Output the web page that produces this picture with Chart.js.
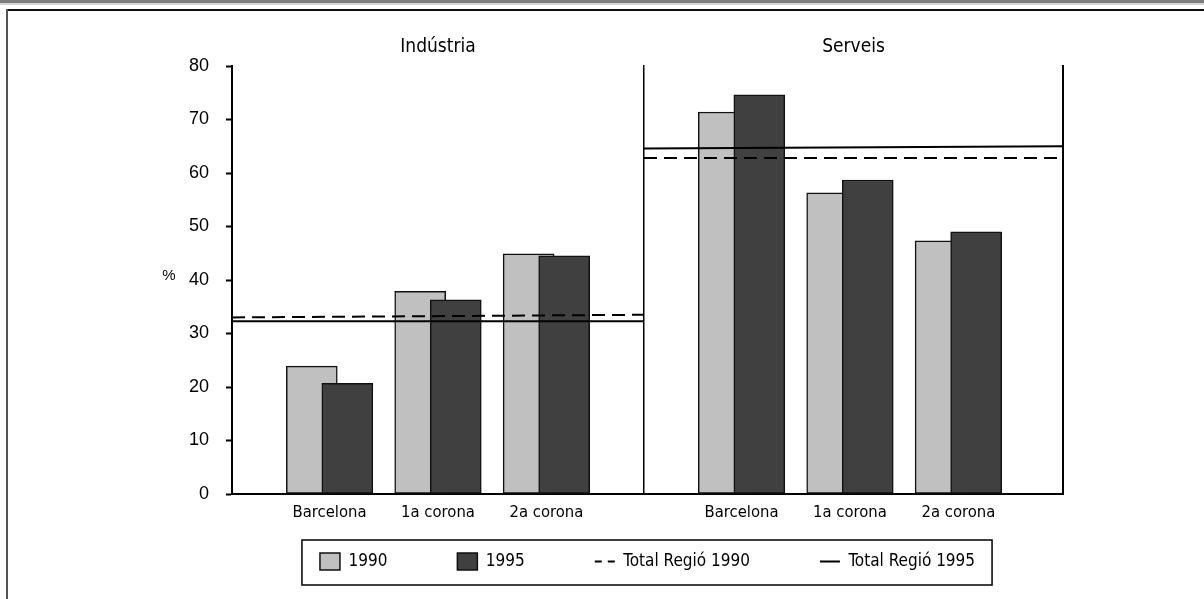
<!DOCTYPE html>
<html>
<head>
<meta charset="utf-8">
<script src="https://cdn.jsdelivr.net/npm/chart.js@4.4.1/dist/chart.umd.min.js"></script>
<style>
html,body{margin:0;padding:0;background:#fff;}
#wrap{position:relative;width:1204px;height:599px;overflow:hidden;background:#fff;}
#topband{position:absolute;left:0;top:0;width:1204px;height:3px;background:#7d7d7d;}
#topband2{position:absolute;left:0;top:3px;width:1204px;height:2px;background:#d4d4d4;}
#topline{position:absolute;left:6px;top:9px;width:1198px;height:2px;background:#111;}
#leftline{position:absolute;left:6px;top:9px;width:2px;height:590px;background:#555;}
canvas{position:absolute;left:0;top:0;}
</style>
</head>
<body>
<div id="wrap">
  <div id="topband"></div><div id="topband2"></div><div id="topline"></div><div id="leftline"></div>
  <canvas id="c" width="1204" height="599"></canvas>
</div>
<script>
// ---- data ----
const categories = ['Barcelona', '1a corona', '2a corona'];
const panels = ['Indústria', 'Serveis'];
const ind1990 = [23.9, 37.9, 44.9];
const ind1995 = [20.7, 36.3, 44.5];
const ser1990 = [71.4, 56.3, 47.3];
const ser1995 = [74.6, 58.7, 49.0];
// total lines: [value at panel left edge, value at panel right edge]
const totInd1990 = [33.0, 33.5];
const totInd1995 = [32.3, 32.3];
const totSer1990 = [62.8, 62.8];
const totSer1995 = [64.6, 65.0];
const legendLabels = ['1990', '1995', 'Total Regió 1990', 'Total Regió 1995'];
const yAxisTitle = '%';
const yMin = 0, yMax = 80, yStep = 10;

// ---- layout helpers (category units on a linear x axis) ----
const PANEL_PAD = 0.9, PANEL_W = 3.8, RIGHT_EXTRA = 0.065, BAR_SHIFT = 0.164;
const xMin = -PANEL_PAD, xDiv = xMin + PANEL_W, xMax = xDiv + PANEL_W + RIGHT_EXTRA;
const panelEdges = [[xMin, xDiv], [xDiv, xMax]];
const catPos = (p, i) => p * PANEL_W + i;
const tickPositions = panels.flatMap((_, p) => categories.map((_, i) => catPos(p, i)));
const tickNames = panels.flatMap(() => categories);
const barPoints = (series, shift) => series.flatMap((vals, p) => vals.map((v, i) => ({x: catPos(p, i) + shift, y: v})));
const linePoints = (left, right) => [
  {x: xMin, y: left[0]}, {x: xDiv, y: left[1]}, {x: xDiv, y: null},
  {x: xDiv, y: right[0]}, {x: xMax, y: right[1]}
];

const CONDENSED = '"DejaVu Sans Condensed", "DejaVu Sans", sans-serif';
const REGULAR = '"Liberation Sans", Arial, sans-serif';
const LEGEND_PAD = 70;

const decor = {
  id: 'decor',
  afterDraw(chart) {
    const {ctx, chartArea, scales: {x, y}} = chart;
    ctx.save();
    ctx.fillStyle = '#000';
    ctx.textAlign = 'center';
    ctx.textBaseline = 'middle';
    ctx.font = '19px ' + CONDENSED;
    panels.forEach((name, p) => {
      const cx = x.getPixelForValue((panelEdges[p][0] + panelEdges[p][1]) / 2);
      ctx.fillText(name, cx, chartArea.top - 19);
    });
    ctx.font = '15px ' + REGULAR;
    ctx.fillText(yAxisTitle, chartArea.left - 63, y.getPixelForValue((yMin + yMax) / 2) - 4);
    const hb = chart.legend.legendHitBoxes;
    if (hb && hb.length) {
      const first = hb[0], last = hb[hb.length - 1];
      const left = first.left - 18, right = last.left + last.width + 17;
      const top = first.top - 13, bottom = first.top + first.height + 15;
      ctx.strokeStyle = '#000';
      ctx.lineWidth = 1.5;
      ctx.strokeRect(left, top, right - left, bottom - top);
    }
    ctx.restore();
  }
};

new Chart(document.getElementById('c'), {
  type: 'bar',
  data: {
    datasets: [
      {type: 'bar', label: legendLabels[0], data: barPoints([ind1990, ser1990], -BAR_SHIFT),
       backgroundColor: '#c0c0c0', borderColor: '#111', borderWidth: 1.5, borderSkipped: false,
       grouped: false, barThickness: 51, order: 3},
      {type: 'bar', label: legendLabels[1], data: barPoints([ind1995, ser1995], BAR_SHIFT),
       backgroundColor: '#404040', borderColor: '#111', borderWidth: 1.5, borderSkipped: false,
       grouped: false, barThickness: 51, order: 2},
      {type: 'line', label: legendLabels[2], data: linePoints(totInd1990, totSer1990),
       borderColor: '#000', borderWidth: 2, borderDash: [13, 7], pointRadius: 0, spanGaps: false,
       fill: false, order: 1},
      {type: 'line', label: legendLabels[3], data: linePoints(totInd1995, totSer1995),
       borderColor: '#000', borderWidth: 2, pointRadius: 0, spanGaps: false, fill: false, order: 0}
    ]
  },
  options: {
    responsive: false,
    animation: false,
    devicePixelRatio: 1,
    events: [],
    layout: {padding: {top: 66, right: 141, bottom: 8, left: 0}},
    scales: {
      x: {
        type: 'linear', min: xMin, max: xMax, offset: false,
        grid: {display: false, drawTicks: false},
        border: {display: true, color: '#000', width: 2},
        afterBuildTicks: (s) => { s.ticks = tickPositions.map(v => ({value: v})); },
        // the legend box is pulled up over the (unclipped, mirrored) tick label band
        afterFit: (s) => { s.height = 553 - LEGEND_PAD - 494; },
        ticks: {autoSkip: false, maxRotation: 0, mirror: true, padding: -28.5, color: '#000',
                font: {family: CONDENSED, size: 16.5},
                callback: (v, i) => tickNames[i]}
      },
      y: {
        min: yMin, max: yMax,
        ticks: {stepSize: yStep, padding: 17, color: '#000', font: {family: REGULAR, size: 18}},
        grid: {drawOnChartArea: false, drawTicks: true, tickLength: 6, tickWidth: 2, tickColor: '#000'},
        border: {display: true, color: '#000', width: 2},
        afterFit: (s) => { s.width = 232; }
      },
      yDiv: {
        position: {x: xDiv}, min: yMin, max: yMax,
        ticks: {display: false}, grid: {display: false, drawTicks: false},
        border: {display: true, color: '#000', width: 1.5}
      },
      yEnd: {
        position: {x: xMax}, min: yMin, max: yMax,
        ticks: {display: false}, grid: {display: false, drawTicks: false},
        border: {display: true, color: '#000', width: 2}
      }
    },
    plugins: {
      tooltip: {enabled: false},
      title: {display: false},
      legend: {
        position: 'bottom', fullSize: false,
        labels: {
          color: '#000', font: {family: CONDENSED, size: 17},
          usePointStyle: true, pointStyleWidth: 20, boxWidth: 20, boxHeight: 19, padding: LEGEND_PAD,
          sort: (a, b) => a.datasetIndex - b.datasetIndex,
          generateLabels(chart) {
            const items = Chart.defaults.plugins.legend.labels.generateLabels(chart);
            items.forEach(it => {
              const ds = chart.data.datasets[it.datasetIndex];
              if (ds.type === 'line') {
                it.pointStyle = 'line';
                it.strokeStyle = '#000';
                it.lineWidth = 2;
                it.lineDash = ds.borderDash ? [7, 6] : [];
              } else {
                it.pointStyle = 'rect';
              }
            });
            return items;
          }
        }
      }
    }
  },
  plugins: [decor]
});
</script>
</body>
</html>
